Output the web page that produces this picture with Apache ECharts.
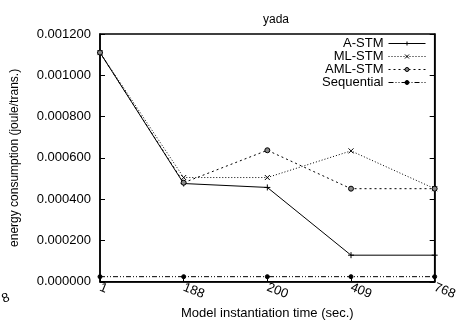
<!DOCTYPE html>
<html><head><meta charset="utf-8">
<script src="https://cdn.jsdelivr.net/npm/echarts@6/dist/echarts.min.js"></script>
<style>html,body{margin:0;padding:0;background:#fff}#c{width:460px;height:325px}</style>
</head><body><div id="c"></div>
<script>
var categories = ['1', '188', '200', '409', '768'];
var aStm = [0.00111, 0.000476, 0.000457, 0.000129, 0.000129];
var mlStm = [0.00111, 0.000505, 0.000505, 0.000634, 0.000451];
var amlStm = [0.00111, 0.00048, 0.000637, 0.000451, 0.000451];
var sequential = [0.000025, 0.000025, 0.000025, 0.000025, 0.000025];
var yTicks = [0, 0.0002, 0.0004, 0.0006, 0.0008, 0.001, 0.0012];

var FONT = 'Liberation Sans, Arial, sans-serif';
var chart = echarts.init(document.getElementById('c'));
function mk(name, data, lineType, symbol, size, fill) {
  return {
    name: name, type: 'line', data: data, symbol: symbol, symbolSize: size,
    showSymbol: true, animation: false,
    lineStyle: { color: '#000', width: 1, type: lineType },
    itemStyle: { color: fill, borderColor: '#000', borderWidth: 1 }
  };
}
chart.setOption({
  animation: false,
  title: { text: 'yada', left: 271, top: 9, textAlign: 'center',
    textStyle: { fontFamily: FONT, fontSize: 12, fontWeight: 'normal', color: '#000' } },
  grid: { left: 100, right: 18, top: 34, bottom: 39, show: true, borderColor: '#000', borderWidth: 1.5 },
  legend: {
    orient: 'vertical', right: 34, top: 37, align: 'right', itemGap: 0, padding: 0,
    itemWidth: 37, itemHeight: 5,
    lineStyle: { width: 1 },
    itemStyle: { borderWidth: 1 },
    textStyle: { fontFamily: FONT, fontSize: 13, color: '#000', lineHeight: 13 },
    data: ['A-STM', 'ML-STM', 'AML-STM', 'Sequential']
  },
  xAxis: {
    type: 'category', data: categories, boundaryGap: false,
    name: 'Model instantiation time (sec.)', nameLocation: 'middle', nameGap: 20,
    nameTextStyle: { fontFamily: FONT, fontSize: 13, color: '#000' },
    axisLine: { lineStyle: { color: '#000', width: 1.5 } },
    axisTick: { inside: true, length: 5, lineStyle: { color: '#000' } },
    axisLabel: { rotate: -22, fontFamily: FONT, fontSize: 13, color: '#000', margin: 5, showMaxLabel: true },
    splitLine: { show: false }
  },
  yAxis: [{
    type: 'value', min: 0, max: 0.0012, interval: 0.0002,
    name: 'energy consumption (joule/trans.)', nameLocation: 'middle', nameGap: 79,
    nameTextStyle: { fontFamily: FONT, fontSize: 12, color: '#000' },
    axisLine: { show: true, lineStyle: { color: '#000', width: 1.5 } },
    axisTick: { show: true, inside: true, length: 5, lineStyle: { color: '#000' } },
    axisLabel: { fontFamily: FONT, fontSize: 13, color: '#000', margin: 9,
      formatter: function (v) { return v.toFixed(6); } },
    splitLine: { show: false }
  }, {
    type: 'value', min: 0, max: 0.0012, interval: 0.0002, position: 'right',
    axisLine: { show: true, lineStyle: { color: '#000', width: 1.5 } },
    axisTick: { show: true, inside: true, length: 5, lineStyle: { color: '#000' } },
    axisLabel: { show: false }, splitLine: { show: false }
  }],
  graphic: [{ type: 'text', left: 0, top: 291, rotation: 22 * Math.PI / 180,
    style: { text: '8', font: '13px ' + FONT, fill: '#000' } }],
  series: [
    mk('A-STM', aStm, 'solid', 'path://M0,5L10,5M5,0L5,10', 6, '#000'),
    mk('ML-STM', mlStm, [1, 2], 'path://M0,0L10,10M10,0L0,10', 5, '#000'),
    mk('AML-STM', amlStm, [2, 3], 'circle', 5, '#888'),
    mk('Sequential', sequential, [5, 2, 1, 2, 1, 2], 'circle', 4, '#000')
  ]
});
</script></body></html>
